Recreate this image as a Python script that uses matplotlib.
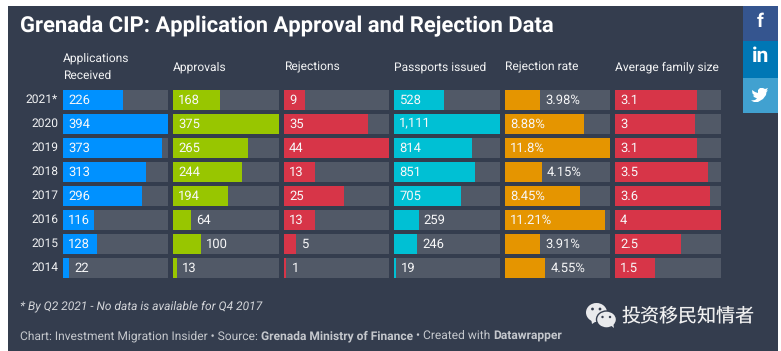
import matplotlib
matplotlib.use("Agg")
import matplotlib.pyplot as plt
from matplotlib.patches import Rectangle, Ellipse, Polygon

W, H = 781, 351

years = ["2021*", "2020", "2019", "2018", "2017", "2016", "2015", "2014"]
headers = ["Applications\nReceived", "Approvals", "Rejections", "Passports issued", "Rejection rate", "Average family size"]
applications = [226, 394, 373, 313, 296, 116, 128, 22]
approvals = [168, 375, 265, 244, 194, 64, 100, 13]
rejections = [9, 35, 44, 13, 25, 13, 5, 1]
passports = [528, 1111, 814, 851, 705, 259, 246, 19]
rejection_rate = [3.98, 8.88, 11.8, 4.15, 8.45, 11.21, 3.91, 4.55]
rate_labels = ["3.98%", "8.88%", "11.8%", "4.15%", "8.45%", "11.21%", "3.91%", "4.55%"]
family_size = [3.1, 3, 3.1, 3.5, 3.6, 4, 2.5, 1.5]
passport_labels = ["528", "1,111", "814", "851", "705", "259", "246", "19"]

columns = [
    (applications, [str(v) for v in applications], "#0091ff", 63, 168),
    (approvals, [str(v) for v in approvals], "#98c600", 173, 279),
    (rejections, [str(v) for v in rejections], "#d73548", 284, 389),
    (passports, passport_labels, "#00c0d4", 394, 500),
    (rejection_rate, rate_labels, "#e59500", 505, 610),
    (family_size, [str(v) for v in family_size], "#d73548", 615, 721),
]

BG = "#343d4e"
TRACK = "#515967"
TEXT = "#f2f3f4"
plt.rcParams["font.family"] = ["Roboto", "Noto Sans CJK SC", "DejaVu Sans"]
plt.rcParams["text.hinting"] = "no_hinting"
plt.rcParams["text.hinting_factor"] = 1

fig = plt.figure(figsize=(W / 100, H / 100), dpi=100, facecolor="white")
ov = fig.add_axes([0, 0, 1, 1], zorder=0)
ov.set_xlim(0, W); ov.set_ylim(H, 0); ov.axis("off")

ov.add_patch(Rectangle((8, 6), 770, 345, fc=BG, ec="none"))
ov.add_patch(Rectangle((743, 6), 35, 35, fc="#35558f", ec="none"))
ov.add_patch(Rectangle((743, 41), 35, 37, fc="#0077b5", ec="none"))
ov.add_patch(Rectangle((743, 78), 35, 35, fc="#41a1d0", ec="none"))
ov.text(760.5, 22, "f", color="white", fontsize=14, fontweight="bold", ha="center", va="center")
ov.text(760.5, 56, "in", color="white", fontsize=15, fontweight="bold", ha="center", va="center")
bird = [(752, 90), (755, 92), (758, 93), (758, 90), (760, 88), (763, 88), (765, 89), (768, 88),
        (766.5, 90.5), (768, 90.5), (766.5, 92), (766, 95), (763, 99), (758, 102), (754, 102), (751, 100.5),
        (755, 100), (757, 98.5), (754, 97), (753, 95.5), (754.5, 95.5), (752.5, 93.5)]
ov.add_patch(Polygon(bird, closed=True, fc="white", ec="none"))

ov.text(20, 26, "Grenada CIP: Application Approval and Rejection Data", color="white", fontsize=15.8,
        fontweight="bold", ha="left", va="center")

HEAD = 8.65
for lab, (vals, labs, color, x0, x1) in zip(headers, columns):
    if "\n" in lab:
        first, second = lab.split("\n")
        ov.text(x0 + 0.3, 58, first, color=TEXT, fontsize=HEAD, ha="left", va="center")
        ov.text(x0 + 0.3, 76, second, color=TEXT, fontsize=HEAD, ha="left", va="center")
    else:
        ov.text(x0 + 0.3, 67, lab, color=TEXT, fontsize=HEAD, ha="left", va="center")

ROW_Y0, ROW_H, ROW_STEP = 90, 20, 24
for i, y in enumerate(years):
    ov.text(58, ROW_Y0 + ROW_STEP * i + ROW_H / 2, y, color=TEXT, fontsize=8.9, ha="right", va="center")

fig.canvas.draw()
r = fig.canvas.get_renderer()

top_px = ROW_Y0 - (ROW_STEP - ROW_H) / 2
bot_px = ROW_Y0 + ROW_STEP * 8 - (ROW_STEP - ROW_H) / 2
for vals, labs, color, x0, x1 in columns:
    ax = fig.add_axes([x0 / W, 1 - bot_px / H, (x1 - x0) / W, (bot_px - top_px) / H], zorder=1)
    ax.patch.set_alpha(0)
    vmax = max(vals)
    ax.set_xlim(0, vmax)
    ax.set_ylim(len(vals) - 0.5, -0.5)
    ax.axis("off")
    pos = list(range(len(vals)))
    ax.barh(pos, [vmax] * len(vals), height=ROW_H / ROW_STEP, color=TRACK, linewidth=0)
    ax.barh(pos, vals, height=ROW_H / ROW_STEP, color=color, linewidth=0)
    for p, v, l in zip(pos, vals, labs):
        bar_px = v / vmax * (x1 - x0)
        t = ax.annotate(l, (0, p), xytext=(3.7, 0), textcoords="offset points", color="#f7f7f8",
                        fontsize=9.2, va="center", ha="left", clip_on=False)
        if t.get_window_extent(r).width + 8.5 >= bar_px:
            t.xy = (v, p)

ov.text(20, 306.5, "* By Q2 2021 - No data is available for Q4 2017", color="#d4d6da", fontsize=8.75,
        style="italic", ha="left", va="center")
x = 20
foot = [("Chart: Investment Migration Insider • Source: ", "normal"), ("Grenada Ministry of Finance", "bold"),
        (" • Created with ", "normal"), ("Datawrapper", "bold")]
for s, w in foot:
    t = ov.text(x, 339, s.replace(" ", "\u00a0"), color="#c5c8cd", fontsize=8.66, fontweight=w, ha="left", va="baseline")
    x += t.get_window_extent(r).width

# WeChat mark and account name
ov.add_patch(Ellipse((596.5, 312.5), 21, 19, fc="#e9eaec", ec="none"))
ov.add_patch(Polygon([(591, 318), (592, 324), (598, 320)], closed=True, fc="#e9eaec", ec="none"))
ov.add_patch(Ellipse((606.5, 319.5), 20, 17, fc="#e9eaec", ec=BG, lw=1))
ov.add_patch(Polygon([(609, 324), (614, 328), (613, 322)], closed=True, fc="#e9eaec", ec="none"))
for cx, cy, s in [(592.5, 309, 1.4), (600, 309, 1.4), (602.5, 317, 1.2), (610, 317, 1.2)]:
    ov.add_patch(Ellipse((cx, cy), s * 2, s * 2, fc=BG, ec="none"))
ov.text(622, 315.5, "投资移民知情者", color="#f0f0f0", fontsize=13.7, ha="left", va="center",
        family=["Noto Sans CJK SC", "DejaVu Sans"])

fig.savefig("out.png", dpi=100, facecolor="white")
